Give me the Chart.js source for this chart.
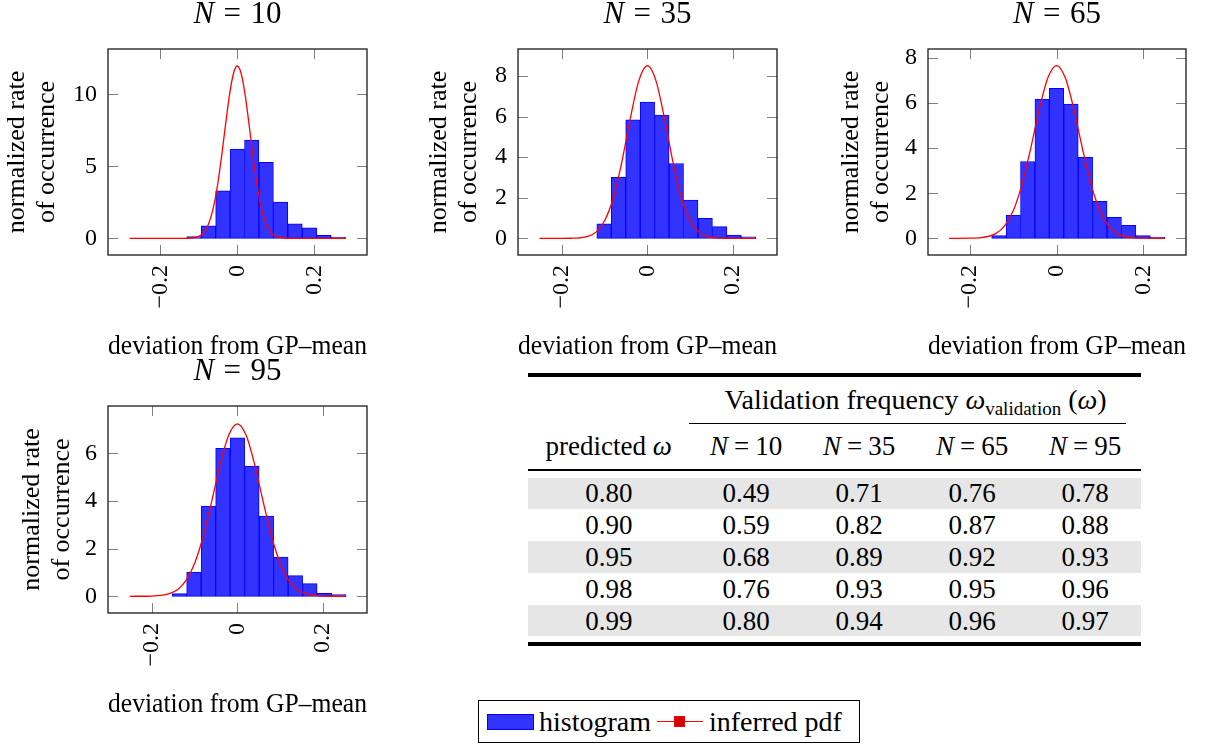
<!DOCTYPE html>
<html>
<head>
<meta charset="utf-8">
<script src="https://cdn.jsdelivr.net/npm/chart.js@4.4.1/dist/chart.umd.min.js"></script>
<style>
  body { margin: 0; width: 1209px; height: 745px; background: #fff; position: relative; overflow: hidden;
         font-family: "Liberation Serif", serif; color: #000; }
  canvas { position: absolute; }
  .cell { position: absolute; height: 40px; line-height: 40px; text-align: center; white-space: nowrap; font-size: 27px; }
  .rule { position: absolute; background: #000; }
  .band { position: absolute; background: #e6e6e6; }
  .sub { font-size: 19px; position: relative; top: 6px; }
  .eq { margin: 0 6px; }
  #legend { position: absolute; left: 478px; top: 700px; width: 382px; height: 43px; box-sizing: border-box;
            border: 1px solid #000; display: flex; align-items: center; padding-left: 8px; font-size: 28px; }
  .swatch { width: 47px; height: 16px; box-sizing: border-box; background: #3333ff; border: 1px solid #0000ff; margin-right: 5px; }
  .linekey { width: 46px; height: 16px; position: relative; margin: 0 6px 0 6px; }
  .linekey:before { content: ""; position: absolute; left: 0; right: 0; top: 7px; height: 1.3px; background: #ff0000; }
  .linekey:after { content: ""; position: absolute; left: 17px; top: 2px; width: 11px; height: 11px; box-sizing: border-box;
                   background: #cc0000; border: 1px solid #ff0000; }
</style>
</head>
<body>
<canvas id="c10" width="400" height="362" style="left:0;top:0"></canvas>
<canvas id="c35" width="400" height="362" style="left:410px;top:0"></canvas>
<canvas id="c65" width="389" height="362" style="left:820px;top:0"></canvas>
<canvas id="c95" width="400" height="388" style="left:0;top:357px"></canvas>
<div id="table"></div>
<div id="legend"></div>
<script>
// ---- data ----
const seriesLabels = ['histogram', 'inferred pdf'];

// N = 10
const bins10 = [-0.1125, -0.075, -0.0375, 0, 0.0375, 0.075, 0.1125, 0.15, 0.1875, 0.225, 0.2625];
const hist10 = [0.12, 0.86, 3.29, 6.2, 6.83, 5.28, 2.52, 1.0, 0.72, 0.21, 0.09];
const pdfX10 = [-0.28, -0.14, -0.12, -0.10, -0.09, -0.08, -0.07, -0.06, -0.05, -0.04, -0.03, -0.02, -0.01, 0,
                0.01, 0.02, 0.03, 0.04, 0.05, 0.06, 0.07, 0.08, 0.09, 0.10, 0.12, 0.14, 0.2815];
const pdfY10 = [0, 0, 0.02, 0.14, 0.32, 0.69, 1.35, 2.41, 3.93, 5.87, 8.02, 10.02, 11.45, 11.97,
                11.45, 10.02, 8.02, 5.87, 3.93, 2.41, 1.35, 0.69, 0.32, 0.14, 0.02, 0, 0];

// N = 35
const bins35 = [-0.1017, -0.0678, -0.0339, 0, 0.0339, 0.0678, 0.1017, 0.1356, 0.1695, 0.2034, 0.2373];
const hist35 = [0.71, 3.01, 5.84, 6.72, 6.07, 3.69, 1.88, 0.99, 0.58, 0.16, 0.07];
const pdfX35 = [-0.253, -0.20, -0.18, -0.16, -0.14, -0.12, -0.10, -0.08, -0.06, -0.04, -0.02, 0,
                0.02, 0.04, 0.06, 0.08, 0.10, 0.12, 0.14, 0.16, 0.18, 0.20, 0.255];
const pdfY35 = [0, 0, 0.005, 0.025, 0.10, 0.32, 0.88, 1.99, 3.76, 5.92, 7.77, 8.51,
                7.77, 5.92, 3.76, 1.99, 0.88, 0.32, 0.10, 0.025, 0.005, 0, 0];

// N = 65
const bins65 = [-0.1328, -0.0996, -0.0664, -0.0332, 0, 0.0332, 0.0664, 0.0996, 0.1328, 0.166, 0.1992, 0.2324];
const hist65 = [0.12, 1.02, 3.41, 6.18, 6.65, 5.96, 3.59, 1.64, 0.93, 0.58, 0.12, 0.06];
const pdfX65 = [-0.2477, -0.20, -0.18, -0.16, -0.14, -0.12, -0.10, -0.08, -0.06, -0.04, -0.02, 0,
                0.02, 0.04, 0.06, 0.08, 0.10, 0.12, 0.14, 0.16, 0.18, 0.20, 0.25];
const pdfY65 = [0, 0.005, 0.02, 0.07, 0.21, 0.54, 1.21, 2.36, 3.95, 5.71, 7.12, 7.66,
                7.12, 5.71, 3.95, 2.36, 1.21, 0.54, 0.21, 0.07, 0.02, 0.005, 0];

// N = 95
const bins95 = [-0.136, -0.102, -0.068, -0.034, 0, 0.034, 0.068, 0.102, 0.136, 0.17, 0.204, 0.238];
const hist95 = [0.11, 1.02, 3.78, 6.2, 6.65, 5.46, 3.36, 1.64, 0.87, 0.53, 0.13, 0.07];
const pdfX95 = [-0.2525, -0.20, -0.18, -0.16, -0.14, -0.12, -0.10, -0.08, -0.06, -0.04, -0.02, 0,
                0.02, 0.04, 0.06, 0.08, 0.10, 0.12, 0.14, 0.16, 0.18, 0.20, 0.255];
const pdfY95 = [0, 0.01, 0.035, 0.11, 0.29, 0.68, 1.40, 2.53, 4.00, 5.56, 6.77, 7.23,
                6.77, 5.56, 4.00, 2.53, 1.40, 0.68, 0.29, 0.11, 0.035, 0.01, 0];

// table
const sampleSizes = [10, 35, 65, 95];
const predictedOmega = [0.80, 0.90, 0.95, 0.98, 0.99];
const validation10 = [0.49, 0.59, 0.68, 0.76, 0.80];
const validation35 = [0.71, 0.82, 0.89, 0.93, 0.94];
const validation65 = [0.76, 0.87, 0.92, 0.95, 0.96];
const validation95 = [0.78, 0.88, 0.93, 0.96, 0.97];

Chart.defaults.font.family = '"Liberation Serif", serif';
Chart.defaults.color = '#000';

const BAR_FILL = 'rgb(51,51,255)';
const BAR_EDGE = '#0000ff';
const PDF_RED = '#ff0000';

// frame, inward ticks on all four sides, and the "N = .." title
const axisFrame = {
  id: 'axisFrame',
  afterDatasetsDraw(chart, args, opts) {
    const { ctx, chartArea: a, scales: { x, y } } = chart;
    ctx.save();
    ctx.strokeStyle = '#808080';
    ctx.lineWidth = 1;
    ctx.beginPath();
    x.ticks.forEach(t => {
      const px = Math.round(x.getPixelForValue(t.value)) + 0.5;
      ctx.moveTo(px, a.bottom); ctx.lineTo(px, a.bottom - 10);
      ctx.moveTo(px, a.top); ctx.lineTo(px, a.top + 10);
    });
    y.ticks.forEach(t => {
      const py = Math.round(y.getPixelForValue(t.value)) + 0.5;
      ctx.moveTo(a.left, py); ctx.lineTo(a.left + 10, py);
      ctx.moveTo(a.right, py); ctx.lineTo(a.right - 10, py);
    });
    ctx.stroke();
    ctx.strokeStyle = '#1a1a1a';
    ctx.lineWidth = 1.3;
    ctx.strokeRect(a.left, a.top, a.right - a.left, a.bottom - a.top);

    // title with italic N
    const size = 31;
    const fIt = 'italic ' + size + 'px "Liberation Serif"';
    const fRm = size + 'px "Liberation Serif"';
    ctx.font = fIt; const wN = ctx.measureText('N').width;
    ctx.font = fRm; const wEq = ctx.measureText('=').width;
    const num = String(opts.n); const wNum = ctx.measureText(num).width;
    const gap = 0.3 * size;
    let tx = (a.left + a.right) / 2 - (wN + gap + wEq + gap + wNum) / 2;
    const ty = a.top - 34;
    ctx.fillStyle = '#000';
    ctx.textAlign = 'left';
    ctx.textBaseline = 'middle';
    ctx.font = fIt; ctx.fillText('N', tx, ty); tx += wN + gap;
    ctx.font = fRm; ctx.fillText('=', tx, ty); tx += wEq + gap;
    ctx.fillText(num, tx, ty);
    ctx.restore();
  }
};

function toPoints(xs, ys) {
  return xs.map((v, i) => ({ x: v, y: ys[i] }));
}

function fmtTick(v) {
  const r = Math.round(v * 100) / 100;
  return r < 0 ? '\u2212' + Math.abs(r) : String(r);
}

function makeHistogram(id, n, bins, hist, pdfX, pdfY, view) {
  const ctx = document.getElementById(id).getContext('2d');
  return new Chart(ctx, {
    type: 'bar',
    data: {
      datasets: [
        {
          type: 'line',
          label: seriesLabels[1],
          data: toPoints(pdfX, pdfY),
          borderColor: PDF_RED,
          borderWidth: 1.3,
          pointRadius: 0,
          cubicInterpolationMode: 'monotone',
          fill: false,
          order: 0
        },
        {
          type: 'bar',
          label: seriesLabels[0],
          data: toPoints(bins, hist),
          backgroundColor: BAR_FILL,
          borderColor: BAR_EDGE,
          borderWidth: 1,
          borderSkipped: false,
          barPercentage: 1,
          categoryPercentage: 1,
          order: 1
        }
      ]
    },
    options: {
      responsive: false,
      animation: false,
      devicePixelRatio: 1,
      layout: { padding: { top: 49, left: 0, right: view.padRight, bottom: 0 } },
      plugins: {
        legend: { display: false },
        tooltip: { enabled: false },
        axisFrame: { n: n }
      },
      scales: {
        x: {
          type: 'linear',
          min: view.xMin,
          max: view.xMax,
          offset: false,
          grid: { display: false, drawTicks: false },
          border: { display: false },
          ticks: {
            stepSize: 0.2,
            includeBounds: false,
            autoSkip: false,
            minRotation: 90,
            maxRotation: 90,
            padding: 10,
            font: { size: 24 },
            callback: fmtTick
          },
          title: {
            display: true,
            text: 'deviation from GP\u2013mean',
            font: { size: 26.5, lineHeight: 1.15 },
            padding: { top: 0, bottom: view.xTitlePad }
          },
          afterFit: s => { s.height = view.xAxisH; }
        },
        y: {
          min: view.yMin,
          max: view.yMax,
          grid: { display: false, drawTicks: false },
          border: { display: false },
          ticks: {
            stepSize: view.yStep,
            includeBounds: false,
            padding: 11,
            font: { size: 24 }
          },
          title: {
            display: true,
            text: ['normalized rate', 'of occurrence'],
            font: { size: 26, lineHeight: 1.15 },
            padding: { top: view.yTitlePad, bottom: 0 }
          },
          afterFit: s => { s.width = 108; }
        }
      }
    },
    plugins: [axisFrame]
  });
}

makeHistogram('c10', sampleSizes[0], bins10, hist10, pdfX10, pdfY10,
  { xMin: -0.336, xMax: 0.337, yMin: -1.16, yMax: 13.15, yStep: 5, padRight: 33, xAxisH: 107, xTitlePad: 0, yTitlePad: 2 });
makeHistogram('c35', sampleSizes[1], bins35, hist35, pdfX35, pdfY35,
  { xMin: -0.3035, xMax: 0.304, yMin: -0.82, yMax: 9.33, yStep: 2, padRight: 33, xAxisH: 107, xTitlePad: 0, yTitlePad: 14 });
makeHistogram('c65', sampleSizes[2], bins65, hist65, pdfX65, pdfY65,
  { xMin: -0.296, xMax: 0.298, yMin: -0.74, yMax: 8.4, yStep: 2, padRight: 23, xAxisH: 107, xTitlePad: 0, yTitlePad: 16 });
makeHistogram('c95', sampleSizes[3], bins95, hist95, pdfX95, pdfY95,
  { xMin: -0.3035, xMax: 0.304, yMin: -0.70, yMax: 7.98, yStep: 2, padRight: 33, xAxisH: 132, xTitlePad: 25, yTitlePad: 17 });

// ---- table ----
const table = document.getElementById('table');
function addDiv(cls, style, html) {
  const d = document.createElement('div');
  d.className = cls;
  Object.assign(d.style, style);
  if (html !== undefined) d.innerHTML = html;
  table.appendChild(d);
  return d;
}
function cell(html, left, width, cy, size) {
  const d = addDiv('cell', { left: left + 'px', width: width + 'px', top: (cy - 20) + 'px' }, html);
  if (size) d.style.fontSize = size + 'px';
}
const colLeft = [528, 689.5, 802.5, 915.5, 1028.5];
const colWidth = [161.5, 113, 113, 113, 113];
const rowTop = 477.5, rowH = 31.8;

addDiv('rule', { left: '528px', top: '373px', width: '613px', height: '4px' });
cell('Validation frequency <i>\u03c9</i><span class="sub">validation</span>&nbsp;(<i>\u03c9</i>)', 689.5, 452, 400, 28);
addDiv('rule', { left: '689px', top: '422.5px', width: '437px', height: '1.4px' });
cell('predicted <i>\u03c9</i>', colLeft[0], colWidth[0], 446);
sampleSizes.forEach((n, j) => cell('<i>N</i><span class="eq">=</span>' + n, colLeft[j + 1], colWidth[j + 1], 446));
addDiv('rule', { left: '528px', top: '468.5px', width: '613px', height: '2px' });

const validation = [validation10, validation35, validation65, validation95];
predictedOmega.forEach((p, i) => {
  const top = rowTop + i * rowH;
  if (i % 2 === 0) addDiv('band', { left: '528px', top: top + 'px', width: '613px', height: rowH + 'px' });
  const cy = top + rowH / 2;
  cell(p.toFixed(2), colLeft[0], colWidth[0], cy);
  validation.forEach((col, j) => cell(col[i].toFixed(2), colLeft[j + 1], colWidth[j + 1], cy));
});
addDiv('rule', { left: '528px', top: '642px', width: '613px', height: '4px' });

// ---- legend ----
const legend = document.getElementById('legend');
legend.innerHTML =
  '<div class="swatch"></div><span>' + seriesLabels[0] + '</span>' +
  '<div class="linekey"></div><span>' + seriesLabels[1] + '</span>';
</script>
</body>
</html>
